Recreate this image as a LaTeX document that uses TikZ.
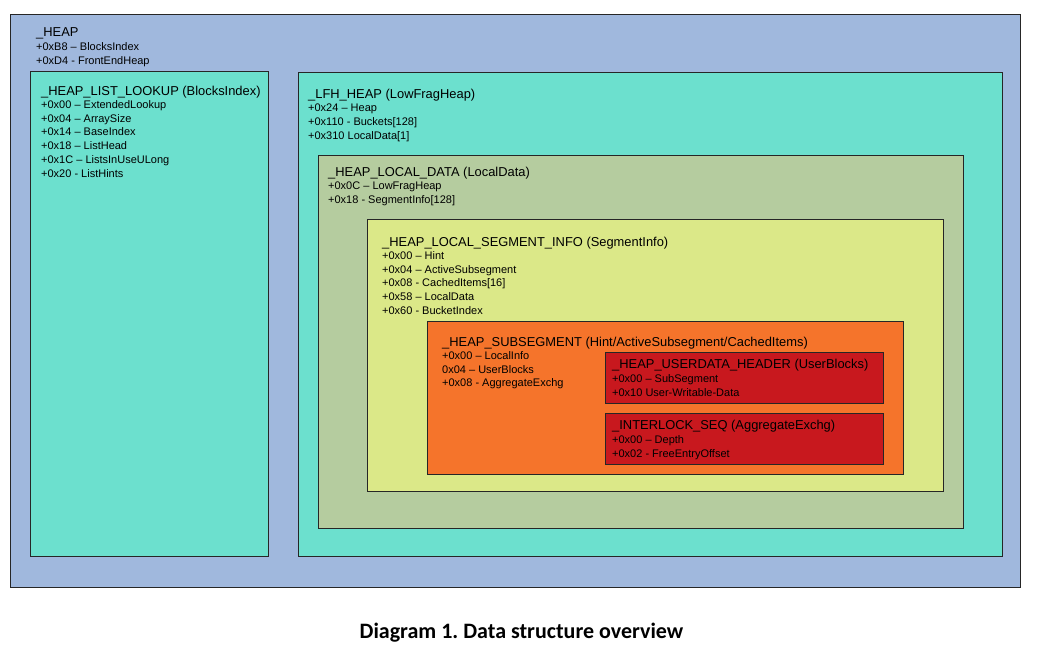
\documentclass[tikz,border=0pt]{standalone}
\usepackage{fontspec}
\setmainfont{Liberation Sans}
\newfontfamily\captionfont{Carlito}
\usetikzlibrary{calc}
\frenchspacing

\begin{document}
\begin{tikzpicture}[x=1pt, y=-1pt,
		box/.style={draw=black!85, line width=0.8pt},
		title/.style={anchor=base west, inner sep=0pt, font=\fontsize{12.9}{14}\selectfont},
		fields/.style={anchor=north west, inner sep=0pt, align=left, font=\fontsize{11}{13.9}\selectfont}]
		% Defines colors to match the image
		\definecolor{heapblue}{RGB}{160, 184, 221}   % outer _HEAP
		\definecolor{lfhcyan}{RGB}{108, 224, 206}    % _LFH_HEAP and lookup
		\definecolor{localgreen}{RGB}{181, 204, 159} % _HEAP_LOCAL_DATA
		\definecolor{seginfo}{RGB}{219, 232, 136}    % segment info
		\definecolor{subseg}{RGB}{245, 116, 43}      % subsegment
		\definecolor{headred}{RGB}{200, 24, 30}      % inner red boxes
		
		% Page size
		\useasboundingbox (0,0) rectangle (1055,646);
		
		% --- Boxes ---
		% Nested rectangles, outer first
		\draw[box, fill=heapblue] (10,14) rectangle (1020,587);
		\draw[box, fill=lfhcyan] (30,71) rectangle (268,556);
		\draw[box, fill=lfhcyan] (298,72) rectangle (1002,556);
		\draw[box, fill=localgreen] (318,155) rectangle (963,528);
		\draw[box, fill=seginfo] (367,219) rectangle (943,491);
		\draw[box, fill=subseg] (427,321) rectangle (903,474);
		\draw[box, fill=headred] (605,352) rectangle (883,403);
		\draw[box, fill=headred] (605,413) rectangle (883,464);
		
		% --- Labels ---
		% _HEAP
		\node[title] (heapT) at (36,36) {\_HEAP};
		\node[fields] (heapF) at (36,42) {+0xB8 – BlocksIndex\\+0xD4 - FrontEndHeap};
		
		% _HEAP_LIST_LOOKUP
		\node[title] (lookupT) at (41,95) {\_HEAP\_LIST\_LOOKUP (BlocksIndex)};
		\node[fields] (lookupF) at (41,100) {+0x00 – ExtendedLookup\\+0x04 – ArraySize\\+0x14 – BaseIndex\\+0x18 – ListHead\\+0x1C – ListsInUseULong\\+0x20 - ListHints};
		
		% _LFH_HEAP
		\node[title] (lfhT) at (308,98) {\_LFH\_HEAP (LowFragHeap)};
		\node[fields] (lfhF) at (308,104) {+0x24 – Heap\\+0x110 - Buckets[128]\\+0x310 LocalData[1]};
		
		% _HEAP_LOCAL_DATA
		\node[title] (localT) at (328,176) {\_HEAP\_LOCAL\_DATA (LocalData)};
		\node[fields] (localF) at (328,182) {+0x0C – LowFragHeap\\+0x18 - SegmentInfo[128]};
		
		% _HEAP_LOCAL_SEGMENT_INFO
		\node[title] (segT) at (382,246) {\_HEAP\_LOCAL\_SEGMENT\_INFO (SegmentInfo)};
		\node[fields] (segF) at (382,251) {+0x00 – Hint\\+0x04 – ActiveSubsegment\\+0x08 - CachedItems[16]\\+0x58 – LocalData\\+0x60 - BucketIndex};
		
		% _HEAP_SUBSEGMENT
		\node[title] (subT) at (442,346) {\_HEAP\_SUBSEGMENT (Hint/ActiveSubsegment/CachedItems)};
		\node[fields] (subF) at (442,351) {+0x00 – LocalInfo\\0x04 – UserBlocks\\+0x08 - AggregateExchg};
		
		% _HEAP_USERDATA_HEADER
		\node[title] (userT) at (612,368) {\_HEAP\_USERDATA\_HEADER (UserBlocks)};
		\node[fields] (userF) at (612,374) {+0x00 – SubSegment\\+0x10 User-Writable-Data};
		
		% _INTERLOCK_SEQ
		\node[title] (seqT) at (612,429) {\_INTERLOCK\_SEQ (AggregateExchg)};
		\node[fields] (seqF) at (612,435) {+0x00 – Depth\\+0x02 - FreeEntryOffset};
		
		% --- Caption ---
		\node[font=\captionfont\bfseries\fontsize{22}{24}\selectfont] (caption) at (521.5,633) {Diagram 1. Data structure overview};
		
	\end{tikzpicture}
\end{document}
